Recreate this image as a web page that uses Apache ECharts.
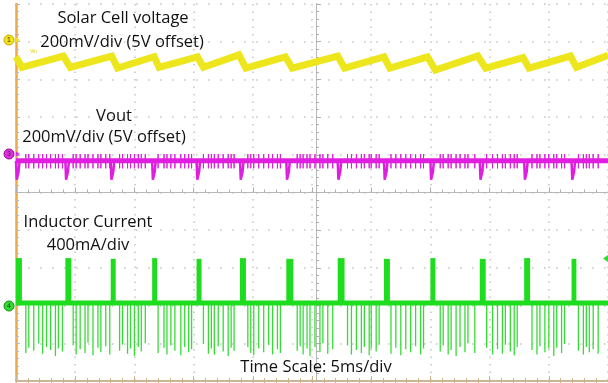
<!DOCTYPE html>
<html>
<head>
<meta charset="utf-8">
<script src="https://cdn.jsdelivr.net/npm/echarts@6/dist/echarts.min.js"></script>
<style>
  html, body { margin: 0; padding: 0; background: #fff; }
  #chart { width: 608px; height: 383px; }
</style>
</head>
<body>
<div id="chart"></div>
<script>
// time in ms (5 ms/div), vertical position in screen divisions (0 = bottom, 10 = top)

// CH1 solar cell voltage: sawtooth vertices [ms, div]
const solarPts = [
  [0, 8.6], [0.5, 8.32], [4.0, 8.62], [4.58, 8.32], [8.08, 8.62], [8.58, 8.3],
  [11.67, 8.6], [12.08, 8.32], [15.33, 8.6], [15.83, 8.32], [18.83, 8.65], [19.42, 8.3],
  [22.75, 8.6], [23.33, 8.3], [27.17, 8.62], [27.75, 8.3], [31.08, 8.6], [31.58, 8.3],
  [34.75, 8.6], [35.42, 8.25], [39.0, 8.62], [39.67, 8.3], [42.83, 8.58], [43.33, 8.3],
  [46.83, 8.62], [47.33, 8.32], [50, 8.64]
];

// CH4 inductor current: burst pulses [start ms, end ms, top div]
const pulses = [
  [0, 0.5, 3.26], [4.17, 4.67, 3.26], [8.0, 8.42, 3.24], [11.5, 11.92, 3.26],
  [15.25, 15.67, 3.24], [18.92, 19.42, 3.26], [22.83, 23.42, 3.24], [27.17, 27.75, 3.26],
  [31.08, 31.58, 3.24], [35.0, 35.42, 3.26], [39.17, 39.67, 3.24], [42.92, 43.42, 3.26],
  [46.92, 47.33, 3.24]
];

// CH4 negative switching spikes
const spikeTimes = [
  0.83, 1.08, 1.5, 1.92, 2.25, 2.58, 2.92, 3.33, 3.58, 3.92,
  4.83, 5.08, 5.42, 5.83, 6.08, 6.5, 6.92, 7.17, 7.58, 7.92,
  8.75, 9.0, 9.42, 9.67, 10.0, 10.33, 10.58, 10.92,
  12.0, 12.5, 12.75, 13.08, 13.42, 13.92, 14.25, 14.58, 14.83,
  15.83, 16.25, 16.5, 16.75, 17.08, 17.5, 17.92, 18.17, 18.42,
  19.58, 19.83, 20.08, 20.5, 20.92, 21.33, 21.67, 22.08, 22.33,
  23.75, 24.0, 24.25, 24.58, 24.83, 25.25, 25.67, 25.92, 26.33, 26.75,
  28.0, 28.33, 28.75, 29.17, 29.42, 29.83, 30.0, 30.42, 30.67,
  31.67, 32.08, 32.5, 32.92, 33.33, 33.75, 34.17, 34.42,
  35.83, 36.08, 36.5, 36.75, 37.17, 37.5, 37.92, 38.17, 38.75,
  39.75, 40.25, 40.67, 41.08, 41.33, 41.75, 42.08, 42.33,
  43.58, 44.0, 44.25, 44.67, 45.0, 45.42, 45.67, 46.08, 46.33,
  47.5, 47.92, 48.17, 48.42, 48.75, 49.17
];
const spikeDepths = [
  0.74, 0.88, 0.8, 1.0, 0.72, 0.9, 0.82, 0.66, 0.86, 0.78,
  0.95, 0.7, 0.84, 0.74, 1.02, 0.68, 0.88, 0.76, 0.92, 0.7,
  0.8, 0.96, 0.72, 0.86, 0.66, 0.9, 0.78, 1.0,
  0.74, 0.88, 0.7, 0.94, 0.8, 0.68, 0.9, 0.76, 0.84,
  0.98, 0.72, 0.86, 0.7, 0.92, 0.78, 0.66, 0.88, 0.8,
  0.9, 0.74, 0.68, 0.86, 0.76, 0.96, 0.7, 0.84, 0.74,
  0.8, 0.92, 0.7, 0.86, 0.66, 0.9, 0.76, 1.0, 0.72, 0.84,
  0.94, 0.7, 0.82, 0.74, 0.9, 0.68, 0.86, 0.78, 0.96,
  0.72, 0.88, 0.68, 0.84, 0.76, 0.92, 0.7, 0.86,
  0.78, 0.94, 0.7, 0.82, 0.66, 0.9, 0.76, 1.0, 0.74,
  0.88, 0.7, 0.84, 0.72, 0.96, 0.78, 0.68, 0.9,
  0.82, 0.7, 0.92, 0.76, 0.86, 0.66, 0.88, 0.74, 0.98,
  0.8, 0.7, 0.9, 0.76, 0.84, 0.72
];

const solarColor = '#ede61c';
const voutColor = '#e01ee0';
const ilColor = '#1edc1e';

const voutBase = 5.84;
const ilBase = 2.07;

const chart = echarts.init(document.getElementById('chart'), null, { renderer: 'canvas' });

// build zig-zag line data for spikes
const ilSpikes = [];
spikeTimes.forEach((t, i) => {
  ilSpikes.push([t, ilBase], [t, spikeDepths[i]], [t, ilBase]);
});
const voutNoise = [];
spikeTimes.forEach((t, i) => {
  voutNoise.push([t, voutBase], [t, voutBase + 0.18], [t, voutBase - 0.2], [t, voutBase]);
});
const voutDips = [];
pulses.forEach(p => {
  voutDips.push([p[0], voutBase], [p[0] + 0.06, 5.34], [p[0] + 0.22, 5.56], [p[0] + 0.3, voutBase]);
});

const tan = '#c9b48f';
const font = '16.5px "Open Sans"';

chart.setOption({
  animation: false,
  grid: { left: 16, top: 4, width: 600, height: 377 },
  xAxis: [
    {
      type: 'value', min: 0, max: 50, interval: 5, position: 'bottom',
      axisLine: { lineStyle: { color: tan, width: 1.5 } },
      axisTick: { inside: true, length: 5, lineStyle: { color: tan } },
      minorTick: { show: true, splitNumber: 5, length: 3, lineStyle: { color: tan } },
      axisLabel: { show: false },
      splitLine: { show: true, lineStyle: { color: '#c4c4c4', width: 1.5, type: [1.5, 6] } }
    },
    {
      type: 'value', min: 0, max: 50, interval: 5, position: 'top',
      axisLine: { lineStyle: { color: tan, width: 1.5 } },
      axisTick: { inside: true, length: 5, lineStyle: { color: tan } },
      minorTick: { show: true, splitNumber: 5, length: 3, lineStyle: { color: tan } },
      axisLabel: { show: false },
      splitLine: { show: false }
    },
    {
      type: 'value', min: 0, max: 50, interval: 5, position: 'bottom', offset: -188.5,
      axisLine: { lineStyle: { color: '#b8b8b8', width: 1 } },
      axisTick: { inside: true, length: 5, lineStyle: { color: '#b0b0b0' } },
      minorTick: { show: true, splitNumber: 5, length: 3, lineStyle: { color: '#b0b0b0' } },
      axisLabel: { show: false },
      splitLine: { show: false }
    }
  ],
  yAxis: [
    {
      type: 'value', min: 0, max: 10, interval: 1, position: 'left',
      axisLine: { show: true, lineStyle: { color: '#f5a742', width: 2.5 } },
      axisTick: { show: true, inside: true, length: 4, lineStyle: { color: '#b8b8b8' } },
      minorTick: { show: true, splitNumber: 5, length: 3, lineStyle: { color: '#b8b8b8' } },
      axisLabel: { show: false },
      splitLine: { show: true, lineStyle: { color: '#c4c4c4', width: 1.5, type: [1.5, 10.5] } }
    },
    {
      type: 'value', min: 0, max: 10, interval: 1, position: 'left', offset: -300,
      axisLine: { show: true, lineStyle: { color: '#b8b8b8', width: 1 } },
      axisTick: { show: true, inside: true, length: 5, lineStyle: { color: '#b0b0b0' } },
      minorTick: { show: true, splitNumber: 5, length: 3, lineStyle: { color: '#b0b0b0' } },
      axisLabel: { show: false },
      splitLine: { show: false }
    }
  ],
  series: [
    {
      name: 'Solar Cell voltage', type: 'line', data: solarPts, symbol: 'none',
      lineStyle: { color: solarColor, width: 7, join: 'miter' }, z: 3
    },
    {
      name: 'Vout', type: 'line', data: [[0, voutBase], [50, voutBase]], symbol: 'none',
      lineStyle: { color: voutColor, width: 5 }, z: 3
    },
    {
      name: 'Vout noise', type: 'line', data: voutNoise, symbol: 'none',
      lineStyle: { color: voutColor, width: 1 }, z: 3
    },
    {
      name: 'Vout dips', type: 'line', data: voutDips, symbol: 'none',
      lineStyle: { color: voutColor, width: 2.5 }, z: 3
    },
    {
      name: 'Inductor spikes', type: 'line', data: ilSpikes, symbol: 'none',
      lineStyle: { color: '#36dc36', width: 1.3 }, z: 3
    },
    {
      name: 'Inductor Current', type: 'line', data: [[0, ilBase], [50, ilBase]], symbol: 'none',
      lineStyle: { color: ilColor, width: 5 }, z: 4
    },
    {
      name: 'Inductor bursts', type: 'custom', data: pulses, z: 4,
      renderItem: (params, api) => {
        const p0 = api.coord([api.value(0), api.value(2)]);
        const p1 = api.coord([api.value(1), ilBase]);
        return {
          type: 'rect',
          shape: { x: p0[0], y: p0[1], width: Math.max(p1[0] - p0[0], 3), height: p1[1] - p0[1] },
          style: { fill: ilColor }
        };
      }
    }
  ],
  graphic: [
    // channel markers
    { type: 'circle', shape: { cx: 9, cy: 40, r: 5 }, style: { fill: '#f2e21a', stroke: '#c9a800', lineWidth: 1 }, z: 10 },
    { type: 'text', style: { x: 9, y: 40, text: '1', fill: '#333', font: '7px sans-serif', align: 'center', verticalAlign: 'middle' }, z: 11 },
    { type: 'polygon', shape: { points: [[16, 37.5], [20, 40], [16, 42.5]] }, style: { fill: '#f2e21a' }, z: 10 },
    { type: 'circle', shape: { cx: 9, cy: 154, r: 5 }, style: { fill: '#e030e0', stroke: '#a000a0', lineWidth: 1 }, z: 10 },
    { type: 'text', style: { x: 9, y: 154, text: '3', fill: '#333', font: '7px sans-serif', align: 'center', verticalAlign: 'middle' }, z: 11 },
    { type: 'polygon', shape: { points: [[16, 151.5], [20, 154], [16, 156.5]] }, style: { fill: '#e030e0' }, z: 10 },
    { type: 'circle', shape: { cx: 9, cy: 306, r: 5 }, style: { fill: '#30dc30', stroke: '#109010', lineWidth: 1 }, z: 10 },
    { type: 'text', style: { x: 9, y: 306, text: '4', fill: '#333', font: '7px sans-serif', align: 'center', verticalAlign: 'middle' }, z: 11 },
    { type: 'polygon', shape: { points: [[608, 255], [603, 258.5], [608, 262]] }, style: { fill: '#30dc30' }, z: 10 },
    { type: 'text', style: { x: 30, y: 52, text: 'Vin', fill: '#e0d000', font: '5px sans-serif', align: 'left', verticalAlign: 'middle' }, z: 10 },
    // annotations
    { type: 'text', style: { x: 123, y: 18, text: 'Solar Cell voltage', fill: '#111', font: font, align: 'center', verticalAlign: 'middle' }, z: 12 },
    { type: 'text', style: { x: 122, y: 42, text: '200mV/div (5V offset)', fill: '#111', font: font, align: 'center', verticalAlign: 'middle' }, z: 12 },
    { type: 'text', style: { x: 114, y: 116, text: 'Vout', fill: '#111', font: font, align: 'center', verticalAlign: 'middle' }, z: 12 },
    { type: 'text', style: { x: 104, y: 137, text: '200mV/div (5V offset)', fill: '#111', font: font, align: 'center', verticalAlign: 'middle' }, z: 12 },
    { type: 'text', style: { x: 88, y: 222, text: 'Inductor Current', fill: '#111', font: font, align: 'center', verticalAlign: 'middle' }, z: 12 },
    { type: 'text', style: { x: 88, y: 245, text: '400mA/div', fill: '#111', font: font, align: 'center', verticalAlign: 'middle' }, z: 12 },
    { type: 'text', style: { x: 316, y: 367, text: 'Time Scale: 5ms/div', fill: '#111', font: font, align: 'center', verticalAlign: 'middle' }, z: 12 }
  ]
});
</script>
</body>
</html>
